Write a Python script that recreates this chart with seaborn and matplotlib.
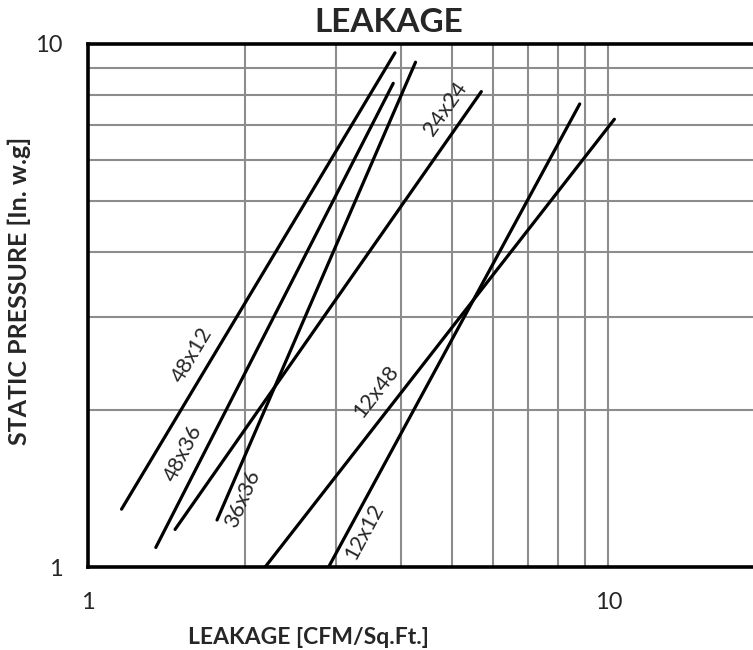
import numpy as np
import pandas as pd
import matplotlib
matplotlib.use("Agg")
import matplotlib.pyplot as plt
import seaborn as sns

# Datos (extremos de cada recta en escala log-log)
series = ['48x12', '48x36', '36x36', '24x24', '12x12', '12x48']
x_start = [1.16, 1.35, 1.77, 1.47, 2.90, 2.19]
y_start = [1.29, 1.09, 1.23, 1.18, 1.00, 1.00]
x_end = [3.89, 3.86, 4.26, 5.70, 8.81, 10.27]
y_end = [9.62, 8.41, 9.23, 8.11, 7.68, 7.18]

x_ticks = [1, 10]
y_ticks = [1, 10]

rows = []
for name, x0, y0, x1, y1 in zip(series, x_start, y_start, x_end, y_end):
    rows.append({'serie': name, 'leakage': x0, 'pressure': y0})
    rows.append({'serie': name, 'leakage': x1, 'pressure': y1})
df = pd.DataFrame(rows)

sns.set_style("white")
plt.rcParams['font.family'] = ['Lato', 'DejaVu Sans']

fig = plt.figure(figsize=(7.53, 6.5), dpi=100)
# el eje sigue mas alla del borde derecho (figura recortada)
ax = fig.add_axes([88 / 753, 83 / 650, 677 / 753, 523 / 650])

sns.lineplot(data=df, x='leakage', y='pressure', hue='serie', units='serie',
             estimator=None, palette=['black'] * len(series), legend=False,
             linewidth=2.3, solid_capstyle='round', ax=ax, zorder=3)

ax.set_xscale('log')
ax.set_yscale('log')
ax.set_xlim(1, 20)
ax.set_ylim(1, 10)

# rejilla: solo la primera decada en x
for v in range(2, 11):
    ax.axvline(v, color='#8c8c8c', lw=1.5, zorder=1)
for v in range(2, 10):
    ax.axhline(v, color='#8c8c8c', lw=1.5, zorder=1)

ax.set_xticks(x_ticks)
ax.set_xticklabels([str(t) for t in x_ticks])
ax.set_yticks(y_ticks)
ax.set_yticklabels([str(t) for t in y_ticks])
ax.minorticks_off()
ax.tick_params(axis='x', length=0, pad=18, labelsize=17)
ax.tick_params(axis='y', length=0, pad=18, labelsize=17)
for s in ax.spines.values():
    s.set_linewidth(2.6)
    s.set_color('black')
ax.set_xlabel('')
ax.set_ylabel('')

fig.text(389 / 753, 1 - 22 / 650, 'LEAKAGE', ha='center', va='center',
         fontsize=24, fontweight='bold')
fig.text(308 / 753, 1 - 638 / 650, 'LEAKAGE [CFM/Sq.Ft.]', ha='center',
         va='center', fontsize=16.5, fontweight='bold')
fig.text(19 / 753, 1 - 291 / 650, 'STATIC PRESSURE [In. w.g]', ha='center',
         va='center', rotation=90, fontsize=18, fontweight='bold')

# etiquetas sobre las rectas: fraccion a lo largo y desplazamiento en px
label_t = [0.316, 0.185, 0.06, 0.935, 0.091, 0.364]
label_d = [19, 19, -15, 19, -15, 21]
for name, x0, y0, x1, y1, t, d in zip(series, x_start, y_start, x_end, y_end,
                                      label_t, label_d):
    p0 = ax.transData.transform((x0, y0))
    p1 = ax.transData.transform((x1, y1))
    v = p1 - p0
    ang = np.degrees(np.arctan2(v[1], v[0]))
    n = np.array([-v[1], v[0]]) / np.hypot(*v)
    p = p0 + t * v + d * n
    xd, yd = ax.transData.inverted().transform(p)
    ax.text(xd, yd, name, rotation=ang, rotation_mode='anchor',
            ha='center', va='center', fontsize=15.5, zorder=4)

fig.savefig('out.png', dpi=100)
